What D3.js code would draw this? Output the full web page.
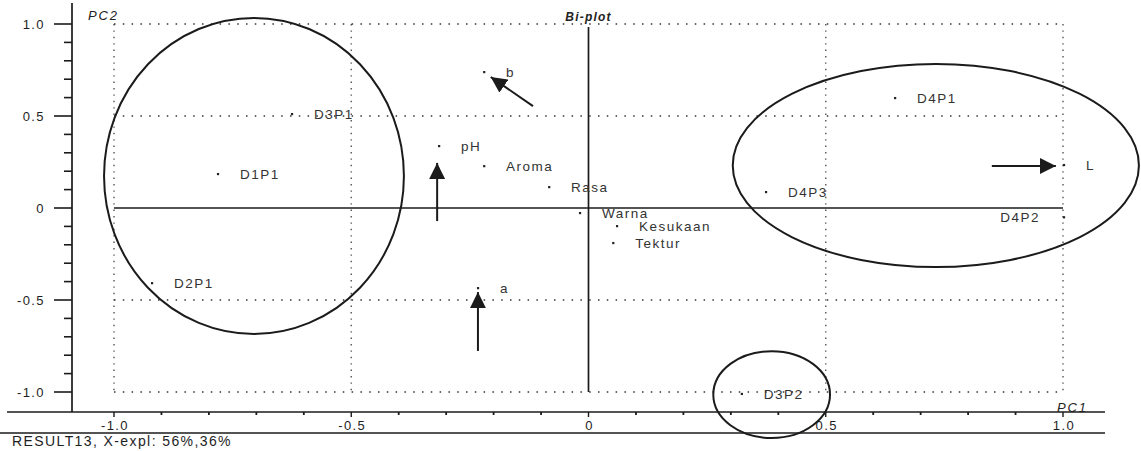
<!DOCTYPE html>
<html>
<head>
<meta charset="utf-8">
<script src="https://cdn.jsdelivr.net/npm/d3@7"></script>
<style>
  html, body { margin: 0; padding: 0; background: #fff; }
  svg { display: block; }
  text { font-family: "Liberation Sans", Arial, sans-serif; }
</style>
</head>
<body>
<svg id="chart" width="1141" height="451"></svg>
<script>
// ---- data ----
const pointLabels = ["D1P1","D3P1","D2P1","b","pH","Aroma","Rasa","Warna","Kesukaan","Tektur","a","D3P2","D4P1","D4P3","L","D4P2"];
const pc1 = [-0.781,-0.625,-0.920,-0.220,-0.315,-0.220,-0.083,-0.018,0.060,0.052,-0.233,0.323,0.646,0.374,1.002,1.002];
const pc2 = [0.185,0.511,-0.408,0.739,0.337,0.228,0.114,-0.027,-0.098,-0.190,-0.435,-1.010,0.598,0.087,0.234,-0.050];
const leftLabels = ["D4P2"];

const xTickValues = [-1.0,-0.5,0,0.5,1.0];
const xTickLabels = ["-1.0","-0.5","0","0.5","1.0"];
const yTickValues = [1.0,0.5,0,-0.5,-1.0];
const yTickLabels = ["1.0","0.5","0","-0.5","-1.0"];
const minorTicks = d3.range(-10, 11).map(d => d / 10);
const gridValues = [-1.0,-0.5,0.5,1.0];

// annotation ellipses (data units: cx, cy, rx, ry)
const ellipseCx = [-0.705, 0.732, 0.386];
const ellipseCy = [0.174, 0.231, -1.014];
const ellipseRx = [0.316, 0.428, 0.123];
const ellipseRy = [0.859, 0.552, 0.236];

// annotation arrows (data units: from -> to)
const arrowX1 = [-0.319, -0.117, -0.233, 0.850];
const arrowY1 = [-0.071, 0.554, -0.777, 0.228];
const arrowX2 = [-0.319, -0.206, -0.233, 0.985];
const arrowY2 = [0.245, 0.712, -0.457, 0.228];

const title = "Bi-plot";
const xTitle = "PC1";
const yTitle = "PC2";
const footer = "RESULT13, X-expl: 56%,36%";

// ---- scales ----
const svg = d3.select("#chart");
const x = d3.scaleLinear().domain([-1, 1]).range([114, 1063]);
const y = d3.scaleLinear().domain([-1, 1]).range([392, 24]);
const ink = "#1b1b1b";
const axisX = 72, axisY = 412;

// defs arrow marker
svg.append("defs").append("marker")
  .attr("id", "head").attr("viewBox", "0 0 10 10")
  .attr("refX", 10).attr("refY", 5)
  .attr("markerWidth", 16).attr("markerHeight", 16)
  .attr("markerUnits", "userSpaceOnUse")
  .attr("orient", "auto")
  .append("path").attr("d", "M0,0 L10,5 L0,10 Z").attr("fill", ink);

// grid dotted lines
const grid = svg.append("g");
gridValues.forEach(v => {
  grid.append("line")
    .attr("x1", x(-1)).attr("x2", x(1)).attr("y1", y(v)).attr("y2", y(v))
    .attr("stroke", "#333").attr("stroke-width", 1.5).attr("stroke-dasharray", "1.5,7.3");
  grid.append("line")
    .attr("x1", x(v)).attr("x2", x(v)).attr("y1", y(1)).attr("y2", y(-1))
    .attr("stroke", "#555").attr("stroke-width", 1.4).attr("stroke-dasharray", "1.4,5");
});

// zero lines
svg.append("line").attr("x1", x(-1)).attr("x2", x(1)).attr("y1", y(0)).attr("y2", y(0))
  .attr("stroke", ink).attr("stroke-width", 1.7);
svg.append("line").attr("x1", x(0)).attr("x2", x(0)).attr("y1", y(1) + 3).attr("y2", y(-1))
  .attr("stroke", ink).attr("stroke-width", 1.7);

// y axis
const yAxisG = svg.append("g");
yAxisG.append("line").attr("x1", axisX).attr("x2", axisX).attr("y1", 3).attr("y2", axisY)
  .attr("stroke", ink).attr("stroke-width", 1.7);
minorTicks.forEach(v => {
  const major = Math.abs(Math.round(v * 10) % 5) === 0;
  yAxisG.append("line").attr("x1", axisX - (major ? 18 : 8)).attr("x2", axisX)
    .attr("y1", y(v)).attr("y2", y(v)).attr("stroke", ink).attr("stroke-width", 1.6);
});
yTickValues.forEach((v, i) => {
  yAxisG.append("text").attr("x", 45).attr("y", y(v)).attr("dy", "0.35em")
    .attr("text-anchor", "end").attr("font-size", 13).attr("letter-spacing", 1.4)
    .attr("fill", "#1e1e1e").text(yTickLabels[i]);
});

// x axis
const xAxisG = svg.append("g");
xAxisG.append("line").attr("x1", 7).attr("x2", 1105).attr("y1", axisY).attr("y2", axisY)
  .attr("stroke", ink).attr("stroke-width", 1.7);
xAxisG.append("line").attr("x1", 0).attr("x2", 1105).attr("y1", 433).attr("y2", 433)
  .attr("stroke", ink).attr("stroke-width", 1.7);
minorTicks.forEach(v => {
  const major = Math.abs(Math.round(v * 10) % 5) === 0;
  xAxisG.append("line").attr("x1", x(v)).attr("x2", x(v))
    .attr("y1", axisY).attr("y2", axisY + (major ? 5 : 3))
    .attr("stroke", ink).attr("stroke-width", major ? 1.4 : 1.8);
});
xTickValues.forEach((v, i) => {
  xAxisG.append("text").attr("x", x(v) + 1).attr("y", 430)
    .attr("text-anchor", "middle").attr("font-size", 13).attr("letter-spacing", 1.4)
    .attr("fill", "#1e1e1e").text(xTickLabels[i]);
});

// titles
svg.append("text").attr("x", x(0)).attr("y", 21).attr("text-anchor", "middle")
  .attr("font-size", 12).attr("font-style", "italic").attr("font-weight", "bold")
  .attr("letter-spacing", 1.2).attr("fill", "#222").text(title);
svg.append("text").attr("x", 88).attr("y", 20)
  .attr("font-size", 13).attr("font-style", "italic").attr("letter-spacing", 1.8)
  .attr("fill", "#222").text(yTitle);
svg.append("text").attr("x", 1057).attr("y", 412)
  .attr("font-size", 13).attr("font-style", "italic").attr("letter-spacing", 1.8)
  .attr("fill", "#222").text(xTitle);
svg.append("text").attr("x", 12).attr("y", 446)
  .attr("font-size", 14).attr("letter-spacing", 1.4)
  .attr("fill", "#1e1e1e").text(footer);

// points
const pts = pointLabels.map((l, i) => ({ label: l, px: pc1[i], py: pc2[i] }));
const pg = svg.append("g");
pg.selectAll("rect").data(pts).join("rect")
  .attr("x", d => x(d.px) - 1).attr("y", d => y(d.py) - 1)
  .attr("width", 2.2).attr("height", 2.2).attr("fill", "#222");
pg.selectAll("text").data(pts).join("text")
  .attr("x", d => leftLabels.includes(d.label) ? x(d.px) - 24 : x(d.px) + 22)
  .attr("y", d => y(d.py)).attr("dy", "0.36em")
  .attr("text-anchor", d => leftLabels.includes(d.label) ? "end" : "start")
  .attr("font-size", 13.5).attr("letter-spacing", 1.5)
  .attr("fill", "#333").text(d => d.label);

// ellipses
const eg = svg.append("g");
ellipseCx.forEach((cx, i) => {
  eg.append("ellipse")
    .attr("cx", x(cx)).attr("cy", y(ellipseCy[i]))
    .attr("rx", x(ellipseRx[i]) - x(0)).attr("ry", y(0) - y(ellipseRy[i]))
    .attr("fill", "none").attr("stroke", ink).attr("stroke-width", 2);
});

// arrows
const ag = svg.append("g");
arrowX1.forEach((x1, i) => {
  ag.append("line")
    .attr("x1", x(x1)).attr("y1", y(arrowY1[i]))
    .attr("x2", x(arrowX2[i])).attr("y2", y(arrowY2[i]))
    .attr("stroke", ink).attr("stroke-width", 2)
    .attr("marker-end", "url(#head)");
});
</script>
</body>
</html>
